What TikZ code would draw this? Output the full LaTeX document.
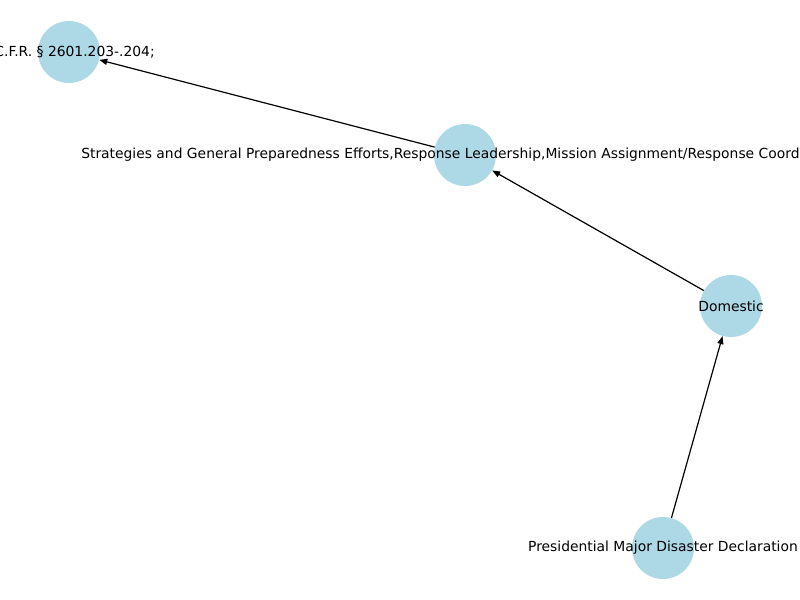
\documentclass[tikz,border=0pt]{standalone}
\usepackage{fontspec}
\setmainfont{DejaVu Sans}
\usetikzlibrary{arrows.meta}
\definecolor{nodeBlue}{HTML}{ADD8E6}

\tikzset{
  vertex/.style={circle, fill=nodeBlue, minimum size=46.5pt, inner sep=0pt},
  lbl/.style={font=\fontsize{10.4}{12}\selectfont, inner sep=0pt, text=black},
  edge/.style={-{Triangle[length=6pt, width=4.5pt]}, line width=0.9pt}
}

\begin{document}
\begin{tikzpicture}[x=0.75pt, y=-0.75pt]
    \useasboundingbox (0,0) rectangle (800,600);
    \clip (0,0) rectangle (800,600);

    % Nodes
    \node[vertex] (cfr)  at (69,52)   {};
    \node[vertex] (strat) at (465,155) {};
    \node[vertex] (dom)  at (731,306) {};
    \node[vertex] (pres) at (663,548) {};

    % Edges
    \draw[edge] (pres) -- (dom);
    \draw[edge] (dom) -- (strat);
    \draw[edge] (strat) -- (cfr);

    % Labels
    \node[lbl, anchor=east] at (155,52) {C.F.R. § 2601.203-.204;};
    \node[lbl, anchor=west] at (81,155) {Strategies and General Preparedness Efforts,Response Leadership,Mission Assignment/Response Coord};
    \node[lbl] at (dom) {Domestic};
    \node[lbl] at (pres) {Presidential Major Disaster Declaration};
\end{tikzpicture}
\end{document}
